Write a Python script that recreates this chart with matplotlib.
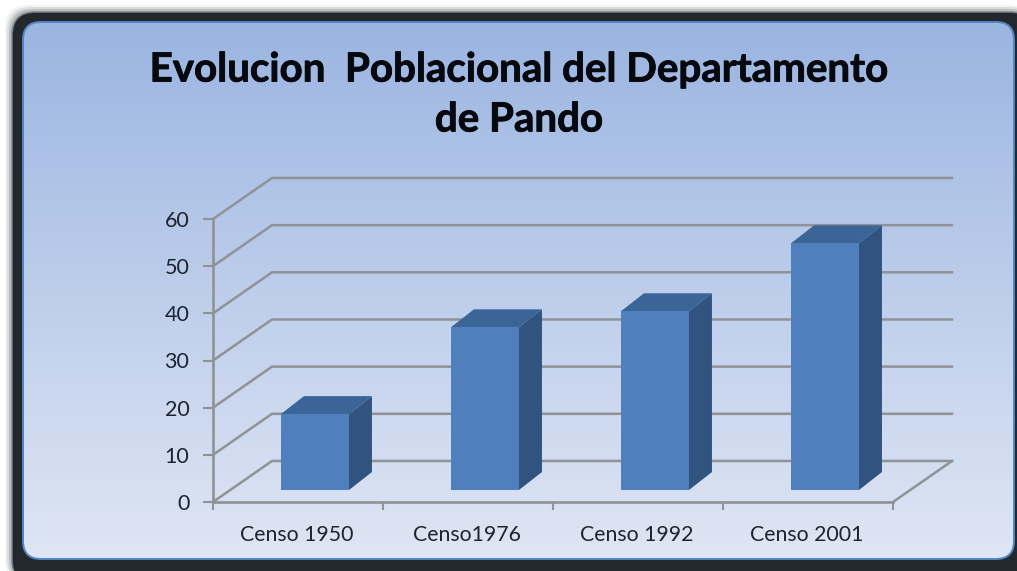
import numpy as np
import matplotlib
matplotlib.use("Agg")
import matplotlib.pyplot as plt
import matplotlib.patheffects as pe
from matplotlib.patches import FancyBboxPatch, Polygon, Rectangle

categories = ["Censo 1950", "Censo1976", "Censo 1992", "Censo 2001"]
values = [16.1, 34.5, 37.9, 52.3]
y_ticks = [0, 10, 20, 30, 40, 50, 60]
title = "Evolucion  Poblacional del Departamento\nde Pando"

W, H = 1017, 571
GRID = "#8f9296"
FRONT = "#4f7fbc"
TOP = "#3a6596"
SIDE = "#30537f"

# depth of the fake 3d box, in axis units (categories / chart values)
WALL_DX, WALL_DY = 0.347, 8.7
BAR_OFF_X, BAR_OFF_Y = 0.10, 2.55
BAR_DX, BAR_DY = 0.135, 3.8
BAR_W = 0.40

plt.rcParams["font.family"] = ["Lato", "DejaVu Sans"]
fig = plt.figure(figsize=(W / 100, H / 100), dpi=100, facecolor="white")

# background frame, pixel coordinates
bg = fig.add_axes([0, 0, 1, 1])
bg.set_xlim(0, W)
bg.set_ylim(H, 0)
bg.axis("off")

# soft shadow round the dark frame
for grow, alpha in [(8, 0.06), (6, 0.1), (4, 0.16), (2, 0.28), (1, 0.4)]:
    bg.add_patch(FancyBboxPatch((13 - grow, 13 - grow), 1020 + grow, 570 + grow,
                                boxstyle="round,pad=0,rounding_size=24", fc="#20262c",
                                ec="none", alpha=alpha))
bg.add_patch(FancyBboxPatch((13, 13), 1020, 570, boxstyle="round,pad=0,rounding_size=22",
                            fc="#23282d", ec="none"))

grad = np.linspace(0, 1, 256).reshape(-1, 1, 1)
c0 = np.array([0x9b, 0xb5, 0xe1]) / 255
c1 = np.array([0xdf, 0xe6, 0xf4]) / 255
img = c0 + (c1 - c0) * grad
panel = FancyBboxPatch((23, 22), 991, 537, boxstyle="round,pad=0,rounding_size=18",
                       fc="none", ec="#4f86c6", lw=1.4, zorder=3)
bg.add_patch(panel)
im = bg.imshow(img, extent=(23, 1014, 559, 22), aspect="auto", zorder=2)
im.set_clip_path(panel)
bg.set_xlim(0, W)
bg.set_ylim(H, 0)

bg.text(519, 95, title, ha="center", va="center", fontsize=29, fontweight="bold",
        color="#07090f", linespacing=1.43, zorder=5,
        path_effects=[pe.withStroke(linewidth=0.6, foreground="#07090f")])

# chart axes: 4 categories across, 0-60 up
ax = fig.add_axes([213 / W, 1 - 502 / H, 680 / W, 283 / H])
ax.set_xlim(0, len(categories))
ax.set_ylim(0, 60)
ax.patch.set_alpha(0)
for s in ["top", "right"]:
    ax.spines[s].set_visible(False)
for s in ["left", "bottom"]:
    ax.spines[s].set_color(GRID)
    ax.spines[s].set_linewidth(1.9)

ax.set_yticks(y_ticks)
ax.set_xticks(range(len(categories) + 1))
ax.set_xticklabels([])
ax.tick_params(axis="y", length=7, width=1.5, color=GRID, labelsize=15.5,
               labelcolor="#1c2430", pad=10)
ax.tick_params(axis="x", length=6, width=1.5, color=GRID)

for i, name in enumerate(categories):
    ax.annotate(name, (i + 0.5, 0), xytext=(-1, -33), textcoords="offset pixels",
                ha="center", va="center", fontsize=15.3, color="#1c2430",
                annotation_clip=False)

# back wall gridlines and the slanted side ones
n = len(categories)
for v in y_ticks:
    ax.plot([0, WALL_DX, n + WALL_DX], [v, v + WALL_DY, v + WALL_DY], color=GRID, lw=1.8,
            clip_on=False, zorder=1, solid_joinstyle="miter")
ax.plot([n, n + WALL_DX], [0, WALL_DY], color=GRID, lw=1.8, clip_on=False, zorder=1)

# bars, drawn as three faces
for i, v in enumerate(values):
    x0 = i + 0.5 - BAR_W / 2 + BAR_OFF_X
    x1 = x0 + BAR_W
    y0 = BAR_OFF_Y
    y1 = BAR_OFF_Y + v
    ax.add_patch(Polygon([(x1, y0), (x1 + BAR_DX, y0 + BAR_DY), (x1 + BAR_DX, y1 + BAR_DY), (x1, y1)],
                         fc=SIDE, ec="none", clip_on=False, zorder=3))
    ax.add_patch(Polygon([(x0, y1), (x1, y1), (x1 + BAR_DX, y1 + BAR_DY), (x0 + BAR_DX, y1 + BAR_DY)],
                         fc=TOP, ec="none", clip_on=False, zorder=3))
    ax.add_patch(Rectangle((x0, y0), BAR_W, v, fc=FRONT, ec="none", clip_on=False, zorder=4))

fig.savefig("out.png", dpi=100)
